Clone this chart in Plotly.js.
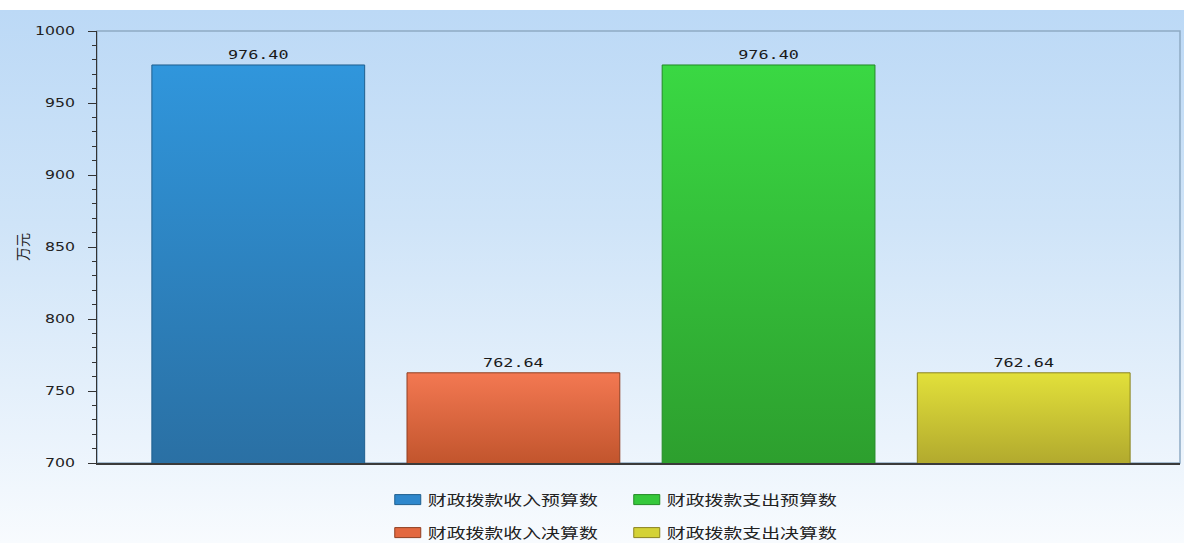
<!DOCTYPE html>
<html>
<head>
<meta charset="utf-8">
<script src="https://cdn.plot.ly/plotly-3.0.1.min.js"></script>
<style>
  html, body { margin: 0; padding: 0; background: #ffffff; }
  #wrap { position: relative; width: 1184px; height: 543px; background: #ffffff; }
  #bgfill { position: absolute; left: 0; top: 10px; width: 1184px; height: 533px;
        background: linear-gradient(to bottom, #bcd9f6 0%, #cfe4f8 40%, #eaf3fc 80%, #f8fbfe 100%); }
  #chart { position: absolute; left: 0; top: 0; width: 1184px; height: 543px; }
</style>
</head>
<body>
<div id="wrap"><div id="bgfill"></div><div id="chart"></div></div>
<script>
// ---- data ----
const seriesNames = ['财政拨款收入预算数', '财政拨款收入决算数', '财政拨款支出预算数', '财政拨款支出决算数'];
const seriesValues = [976.40, 762.64, 976.40, 762.64];
const seriesPos = [0, 1, 2, 3];
const yTicks = [700, 750, 800, 850, 900, 950, 1000];
const yTitle = '万元';

// ---- styles ----
const colors = ['#2e87cc', '#e3683f', '#35c83b', '#d4d236'];
const gradTop = ['#3096dc', '#f37852', '#3ad843', '#e2e03a'];
const gradBot = ['#2a70a4', '#c2552d', '#2d9f2e', '#b2aa2e'];
const edge = ['#1f5f8f', '#8f3f22', '#238a25', '#8a8320'];
// legend order: row1 = 0,2 ; row2 = 1,3
const legendOf = ['legend', 'legend2', 'legend', 'legend2'];
const traceOrder = [0, 2, 1, 3];

const traces = traceOrder.map(i => ({
  type: 'bar',
  name: seriesNames[i],
  x: [seriesPos[i]],
  y: [seriesValues[i]],
  width: 0.834,
  marker: { color: colors[i], line: { color: edge[i], width: 1 } },
  text: [seriesValues[i].toFixed(2)],
  textposition: 'outside',
  cliponaxis: false,
  textfont: { family: 'DejaVu Sans Mono, monospace', size: 12, color: '#1a1a1a' },
  legend: legendOf[i],
  hoverinfo: 'none'
}));

const legendCommon = {
  orientation: 'h',
  xref: 'container', yref: 'container',
  xanchor: 'left',
  yanchor: 'middle',
  bgcolor: 'rgba(0,0,0,0)',
  font: { family: 'Noto Sans CJK SC, sans-serif', size: 14, color: '#222' },
  entrywidth: 194,
  entrywidthmode: 'pixels',
  itemwidth: 30,
  traceorder: 'normal'
};

const layout = {
  width: 1184, height: 543,
  margin: { l: 97, r: 4, t: 31, b: 80 },
  paper_bgcolor: 'rgba(0,0,0,0)',
  plot_bgcolor: 'rgba(0,0,0,0)',
  showlegend: true,
  bargap: 0,
  xaxis: {
    range: [-0.632, 3.6125],
    showticklabels: false, ticks: '', showgrid: false, zeroline: false,
    showline: true, linecolor: '#3a3a3a', linewidth: 1.5, fixedrange: true
  },
  yaxis: {
    range: [700, 1000],
    tickvals: yTicks,
    ticktext: yTicks.map(String),
    ticks: 'outside', ticklen: 8, tickwidth: 1, tickcolor: '#333',
    minor: { dtick: 10, ticks: 'outside', ticklen: 4, tickcolor: '#333', showgrid: false },
    showgrid: false, zeroline: false,
    showline: true, linecolor: '#333', linewidth: 1.5,
    tickfont: { family: 'DejaVu Sans, sans-serif', size: 12.5, color: '#222' },
    ticklabelstandoff: 10,
    title: { text: yTitle, standoff: 11, font: { family: 'Noto Sans CJK SC, sans-serif', size: 14, color: '#222' } },
    automargin: false, fixedrange: true
  },
  shapes: [
    { type: 'rect', xref: 'paper', yref: 'paper', x0: 0, x1: 1, y0: 0, y1: 1,
      line: { color: '#8eaac4', width: 1.5 }, fillcolor: 'rgba(0,0,0,0)', layer: 'below' }
  ],
  legend: Object.assign({}, legendCommon, { x: 0.3275, y: 1 - 500 / 543 }),
  legend2: Object.assign({}, legendCommon, { x: 0.3275, y: 1 - 533 / 543 })
};

const SVGNS = 'http://www.w3.org/2000/svg';

// the reference's text is drawn horizontally stretched: scale each text about its anchor x
function stretch(el, sx) {
  const cur = el.getAttribute('transform') || '';
  if (cur.indexOf('scale(') >= 0) return;
  const x = parseFloat(el.getAttribute('x')) || 0;
  el.setAttribute('transform', (cur + ' translate(' + x + ',0) scale(' + sx + ',1) translate(' + (-x) + ',0)').trim());
}

function decorate(gd) {
  const svg = gd.querySelector('svg.main-svg');
  if (!svg) return;
  let defs = svg.querySelector('defs#bargrads');
  if (defs) defs.remove();
  defs = document.createElementNS(SVGNS, 'defs');
  defs.setAttribute('id', 'bargrads');
  svg.insertBefore(defs, svg.firstChild);
  const bottom = gd._fullLayout.yaxis._length;
  const barTraces = gd.querySelectorAll('.barlayer .trace');
  barTraces.forEach((t, k) => {
    const idx = traceOrder[k];
    t.querySelectorAll('.point path').forEach((p, j) => {
      const bb = p.getBBox();
      const top = bb.y;
      const g = document.createElementNS(SVGNS, 'linearGradient');
      const id = 'bargrad' + idx + '_' + j;
      g.setAttribute('id', id);
      g.setAttribute('gradientUnits', 'userSpaceOnUse');
      g.setAttribute('x1', '0'); g.setAttribute('y1', String(top));
      g.setAttribute('x2', '0'); g.setAttribute('y2', String(bottom));
      [[0, gradTop[idx]], [1, gradBot[idx]]].forEach(([o, c]) => {
        const s = document.createElementNS(SVGNS, 'stop');
        s.setAttribute('offset', o); s.setAttribute('stop-color', c);
        g.appendChild(s);
      });
      defs.appendChild(g);
      p.style.fill = 'url(#' + id + ')';
    });
  });
  gd.querySelectorAll('.legendpoints path').forEach(p => {
    p.setAttribute('d', 'M13,5H-13V-5H13Z');
  });
  gd.querySelectorAll('text.legendtext, text.legend2text').forEach(t => stretch(t, 1.35));
  gd.querySelectorAll('.ytick text').forEach(t => stretch(t, 1.26));
  gd.querySelectorAll('text.bartext').forEach(t => stretch(t, 1.4));
}

const gd = document.getElementById('chart');
Plotly.newPlot(gd, traces, layout, { displayModeBar: false, staticPlot: true }).then(() => {
  decorate(gd);
  gd.on('plotly_afterplot', () => decorate(gd));
  setTimeout(() => decorate(gd), 50);
});
</script>
</body>
</html>
